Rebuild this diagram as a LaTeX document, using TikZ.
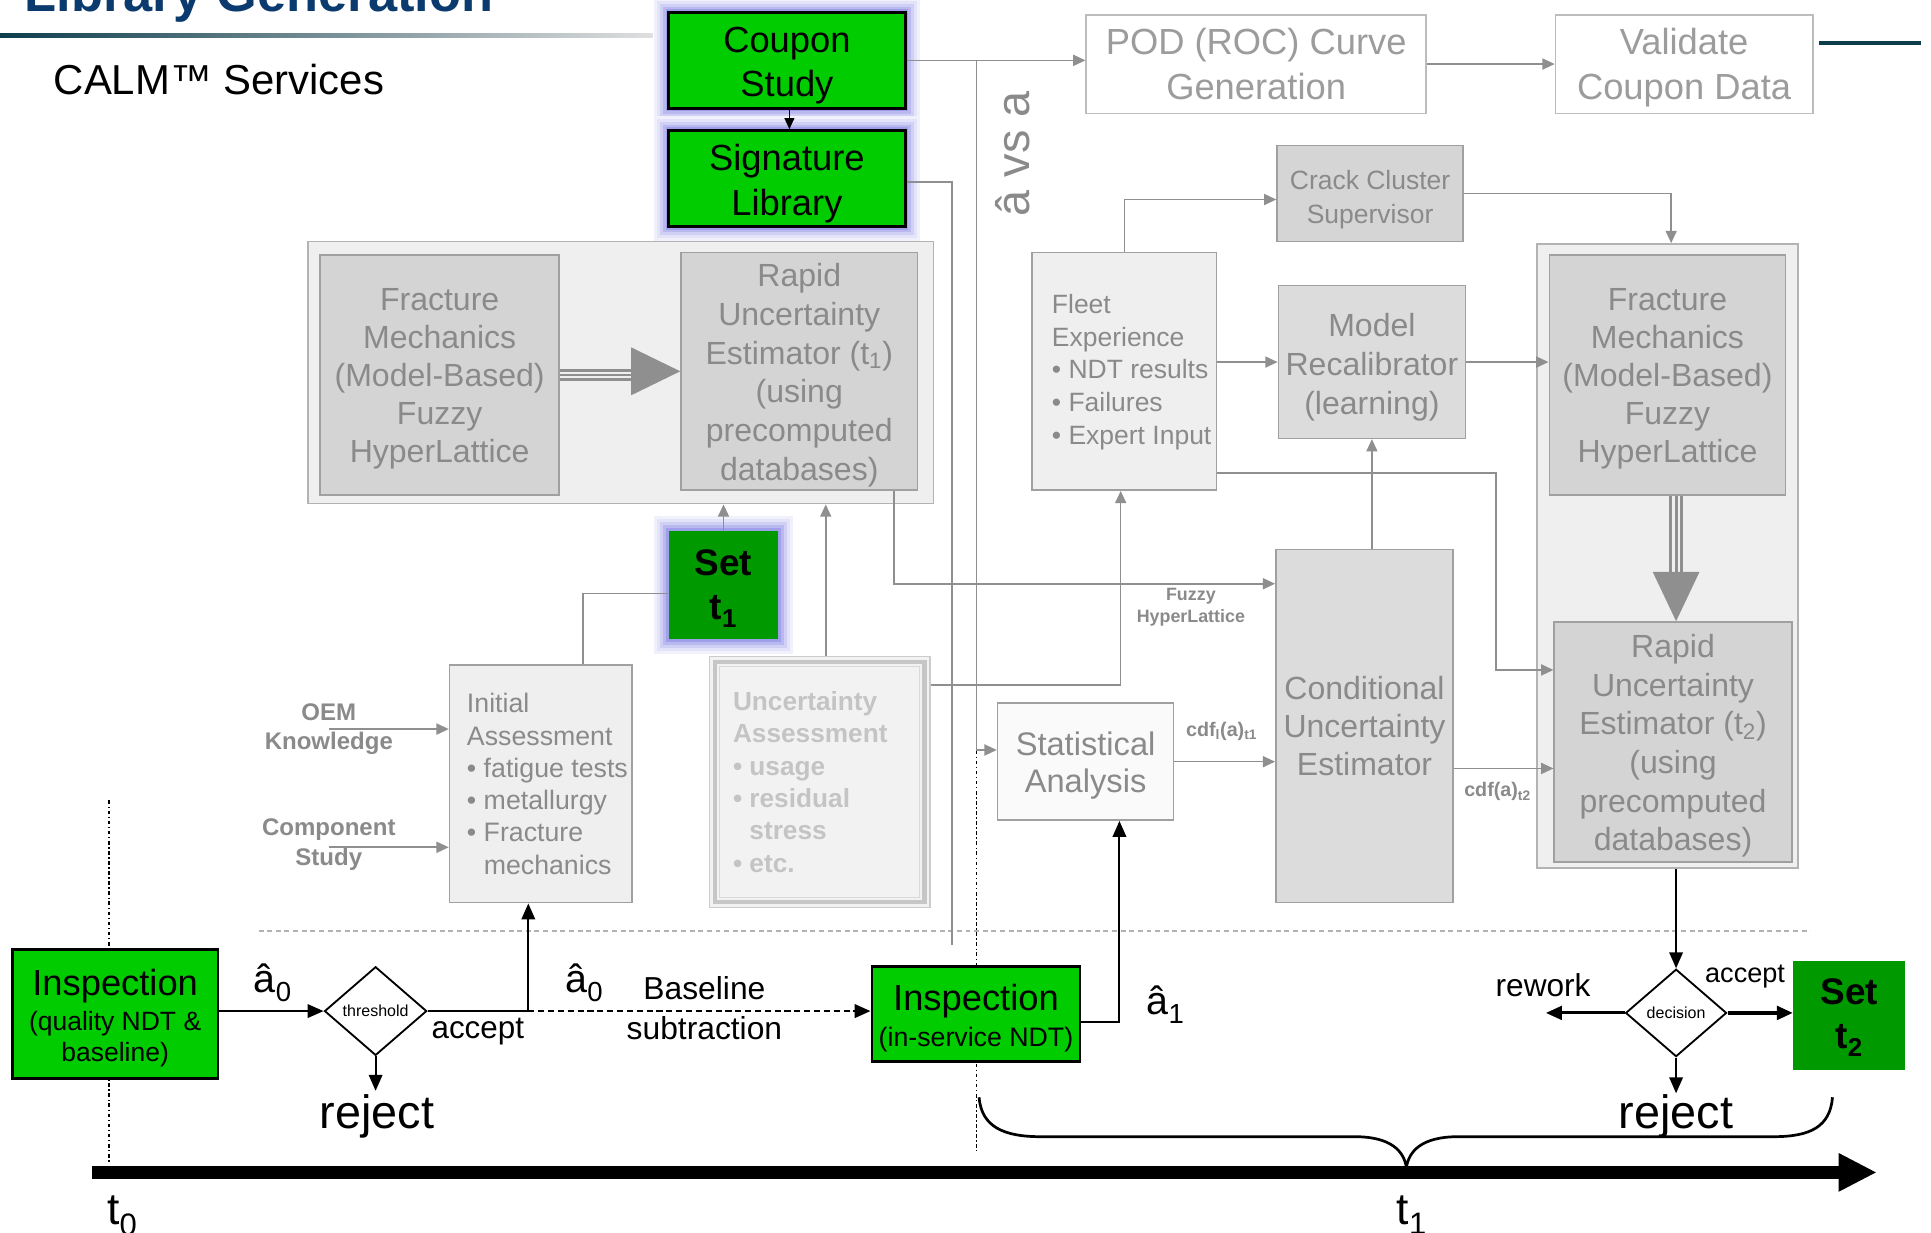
\documentclass[tikz,border=0pt]{standalone}
\usepackage{fontspec}
\setmainfont{Liberation Sans}
\usetikzlibrary{arrows.meta,shapes.geometric,calc}
\newcommand\fs[2]{\fontsize{#1pt}{#2pt}\selectfont}
\newcommand\strutto[1]{\rule{0pt}{#1pt}}
\definecolor{gtext}{HTML}{8A8A8A}
\definecolor{glinec}{HTML}{8F8F8F}
\definecolor{gborder}{HTML}{A0A0A0}
\definecolor{fmfill}{HTML}{D4D4D4}
\definecolor{midfill}{HTML}{DCDCDC}
\definecolor{contfill}{HTML}{EFEFEF}
\definecolor{brightgreen}{HTML}{00CC00}
\definecolor{darkgreen}{HTML}{009900}
\definecolor{glowc}{HTML}{8E8EE6}
\definecolor{navy}{HTML}{0B3A6E}
\definecolor{tealc}{HTML}{0D3D4D}
\definecolor{unctext}{HTML}{C4C4C4}
\begin{document}
\begin{tikzpicture}[x=1pt,y=-1pt,
  wh/.style 2 args={minimum width=#1pt, minimum height=#2pt},
  greybox/.style={draw=gborder, line width=1.2pt, inner sep=0pt, align=center, text=gtext},
  contbox/.style={draw=gborder!80, line width=1.2pt, fill=contfill, inner sep=0pt},
  greenbox/.style={draw=black, line width=2.2pt, fill=brightgreen, inner sep=0pt, align=center, text=black},
  setbox/.style={fill=darkgreen, inner sep=0pt, align=center, text=black, font=\bfseries\fs{30}{36}},
  glow/.style={preaction={draw=glowc!12, line width=24pt, rounded corners=12pt},
               preaction={draw=glowc!25, line width=19pt, rounded corners=9pt},
               preaction={draw=glowc!42, line width=14pt, rounded corners=6pt},
               preaction={draw=glowc!62, line width=9pt, rounded corners=3pt},
               preaction={draw=glowc!85, line width=5pt}},
  gl/.style={draw=glinec, line width=1.3pt},
  garrow/.style={gl, -{Triangle[length=10pt,width=9pt]}},
  bl/.style={draw=black, line width=1.6pt},
  barrow/.style={bl, -{Triangle[length=13pt,width=11pt]}},
  tri/.style={draw=glinec, line width=2.4pt},
  decisionshape/.style={shape=diamond, draw=black, line width=1.5pt, fill=white, inner sep=0pt, font=\fs{13}{15}},
  lbl/.style={inner sep=0pt, text=black}
]
\useasboundingbox (0,0) rectangle (1568,1001);
\fill[white] (0,0) rectangle (1568,1001);

% header
\node[anchor=base west, inner sep=0pt, text=navy, font=\bfseries\fs{42.5}{50}] (title) at (20,9.5) {Library Generation};
\shade[left color=tealc, right color=gray!25] (0,27) rectangle (530,30.5);
\fill[tealc] (1477,33) rectangle (1560,36.5);
\node[anchor=base west, inner sep=0pt, font=\fs{34}{40}] (calm) at (43.5,77) {CALM™ Services};

% separator and time markers
\draw[gray!60, line width=1pt, dash pattern=on 4pt off 3pt] (210,756) -- (1470,756);
\draw[black, line width=1.2pt, dash dot] (88.5,650) -- (88.5,945);
\draw[black, line width=1.2pt, dash dot] (793,552) -- (793,935);

% containers
\node[contbox, wh={508}{213}] (leftcont) at (504,302.5) {};
\node[contbox, wh={212}{507}] (rightcont) at (1354,451.5) {};

% grey boxes
\node[greybox, fill=fmfill, wh={194}{195}, font=\fs{26}{31}] (fm1) at (357,304.5) {\strutto{24}Fracture\\Mechanics\\(Model-Based)\\Fuzzy\\HyperLattice};
\node[greybox, fill=fmfill, wh={192}{193}, font=\fs{26}{31.4}] (rue1) at (649,301.5) {\strutto{25}Rapid\\Uncertainty\\Estimator (t\textsubscript{1})\\(using\\precomputed\\databases)};
\node[greybox, fill=fmfill, wh={192}{195}, font=\fs{26}{31}] (fm2) at (1354,304.5) {\strutto{24}Fracture\\Mechanics\\(Model-Based)\\Fuzzy\\HyperLattice};
\node[greybox, fill=fmfill, wh={193}{195}, font=\fs{26}{31.4}] (rue2) at (1358.5,602.5) {\strutto{25}Rapid\\Uncertainty\\Estimator (t\textsubscript{2})\\(using\\precomputed\\databases)};
\node[greybox, draw=gborder!70, fill=white, wh={276}{80}, font=\fs{29.5}{37}, text=gtext!85] (pod) at (1020,52) {POD (ROC) Curve\\Generation};
\node[greybox, draw=gborder!70, fill=white, wh={209}{80}, font=\fs{29.5}{37}, text=gtext!85] (validate) at (1367.5,52) {\strutto{27.5}Validate\\Coupon Data};
\node[greybox, fill=midfill!97!black, wh={151}{78}, font=\fs{21.5}{27}] (crack) at (1112.5,157) {\strutto{25.7}Crack Cluster\\Supervisor};
\node[greybox, fill=contfill, wh={150}{193}] (fleet) at (913,301.5) {};
\node[anchor=west, align=left, inner sep=0pt, text=gtext, font=\fs{21.5}{26.5}] (fleettxt) at (854,302) {Fleet\\Experience\\• NDT results\\• Failures\\• Expert Input};
\node[greybox, fill=midfill, wh={152}{124}, font=\fs{26}{31.5}] (model) at (1114,294) {\strutto{27}Model\\Recalibrator\\(learning)};
\node[greybox, fill=midfill, wh={144}{287}, font=\fs{26}{31}] (cond) at (1108,589.5) {Conditional\\Uncertainty\\Estimator};
\node[greybox, fill=gray!4, wh={143}{95}, font=\fs{26.5}{30}] (stat) at (881.5,618.5) {\strutto{25.3}Statistical\\Analysis};
\node[greybox, fill=contfill, wh={148}{193}] (init) at (439,636.5) {};
\node[anchor=west, align=left, inner sep=0pt, text=gtext, font=\fs{21.7}{26.2}] (inittxt) at (379,636.5) {Initial\\Assessment\\• fatigue tests\\• metallurgy\\• Fracture\\\phantom{• }mechanics};
\node[draw=gray!40, line width=1.2pt, fill=gray!10, inner sep=0pt, wh={179}{204}] (unc) at (665.5,635) {};
\draw[gray!45, line width=3.5pt] ([shift={(5,5)}]unc.north west) rectangle ([shift={(-5,-5)}]unc.south east);
\draw[gray!30, line width=1pt] ([shift={(9,9)}]unc.north west) rectangle ([shift={(-9,-9)}]unc.south east);
\node[anchor=west, align=left, inner sep=0pt, text=unctext, font=\bfseries\fs{21.3}{26.2}] (unctxt) at (595,635) {Uncertainty\\Assessment\\• usage\\• residual\\\phantom{• }stress\\• etc.};

% green boxes
\node[greenbox, glow, wh={192}{78}, font=\fs{29.5}{36}] (coupon) at (639,49) {\strutto{29.5}Coupon\\Study};
\node[greenbox, glow, wh={192}{78}, font=\fs{29.5}{36}] (siglib) at (639,145) {\strutto{29.5}Signature\\Library};
\node[setbox, glow, wh={89}{88}] (set1) at (587.5,475) {\strutto{26.6}Set\\t\textsubscript{1}};
\node[setbox, wh={91}{89}] (set2) at (1501.5,824.5) {\strutto{24.6}Set\\t\textsubscript{2}};
\node[greenbox, wh={167}{105}, font=\fs{21.5}{25}] (insp0) at (93.5,823.5) {{\fs{29.5}{34}\strutto{27.5}Inspection}\\[4pt](quality NDT \&\\baseline)};
\node[greenbox, wh={169}{77}, font=\fs{21.7}{25}] (insp1) at (792.5,823.5) {\strutto{28}{\fs{29.5}{34}Inspection}\\[4pt](in-service NDT)};

% decisions
\node[decisionshape, wh={83}{72}] (thr) at (305,821) {threshold};
\node[decisionshape, wh={82}{71}] (dec) at (1361,822.5) {decision};

% labels
\node[rotate=90, inner sep=0pt, text=gtext, font=\fs{38}{44}] (avsa) at (822,125) {â vs a};
\node[align=center, inner sep=0pt, text=gtext, font=\bfseries\fs{19.5}{24}] (oem) at (267,592) {OEM\\Knowledge};
\node[align=center, inner sep=0pt, text=gtext, font=\bfseries\fs{19.5}{24}] (comp) at (267,686) {Component\\Study};
\node[align=center, inner sep=0pt, text=gtext, font=\bfseries\fs{14.5}{18}] (fuzzy) at (967,493) {Fuzzy\\HyperLattice};
\node[inner sep=0pt, text=gtext, font=\bfseries\fs{16}{18}] (cdf1) at (992,594) {cdf\textsubscript{l}(a)\textsubscript{t1}};
\node[inner sep=0pt, text=gtext, font=\bfseries\fs{16}{18}] (cdf2) at (1216,643) {cdf(a)\textsubscript{t2}};
\node[lbl, anchor=base west, font=\fs{32}{38}] (ahat0a) at (206,806) {â\textsubscript{0}};
\node[lbl, anchor=base west, font=\fs{32}{38}] (ahat0b) at (459,806) {â\textsubscript{0}};
\node[lbl, anchor=base west, font=\fs{32}{38}] (ahat1) at (931,824) {â\textsubscript{1}};
\node[lbl, anchor=base, font=\fs{25.5}{30}] (acc1) at (388,843) {accept};
\node[lbl, anchor=base, font=\fs{25.8}{30}] (basel) at (572,812) {Baseline};
\node[lbl, anchor=base, font=\fs{25.8}{30}] (subtr) at (572,844) {subtraction};
\node[lbl, anchor=base, font=\fs{38}{44}] (rej1) at (306,916) {reject};
\node[lbl, anchor=base, font=\fs{38}{44}] (rej2) at (1361,916) {reject};
\node[lbl, anchor=base, font=\fs{25.7}{30}] (rework) at (1253,809) {rework};
\node[lbl, anchor=base, font=\fs{22}{26}] (acc2) at (1417,798) {accept};
\node[lbl, anchor=base west, font=\fs{36}{40}] (t0) at (87,994) {t\textsubscript{0}};
\node[lbl, anchor=base west, font=\fs{36}{40}] (t1) at (1134,994) {t\textsubscript{1}};

% triple arrows
\foreach \dy in {-4,0,4} \draw[tri] ([yshift=\dy pt]fm1.east) -- ++(62,0);
\fill[glinec] (rue1.west) -- ++(-40,19.5) -- ++(0,-39) -- cycle;
\foreach \dx in {-4.5,0,4.5} \draw[tri] ([xshift=\dx pt+7pt]fm2.south) -- ++(0,65);
\fill[glinec] ([xshift=2.5pt]rue2.north) -- ++(-19,-40) -- ++(38,0) -- cycle;

% grey connectors
\coordinate (avsatop) at (793,49);
\coordinate (sigend) at (773,767);
\draw[garrow] (coupon.east) -- (coupon.east -| pod.west);
\draw[garrow] (avsatop) |- ([yshift=9.5pt]stat.west);
\draw[garrow] (pod.east) -- (validate.west);
\draw[gl] ([yshift=-3pt]siglib.east) -| (sigend);
\draw[garrow] (fleet.north) |- ([yshift=-5pt]crack.west);
\draw[garrow] (crack.east) -| ([xshift=3pt]rightcont.north);
\draw[garrow] ([xshift=77pt]rue1.south) |- ([yshift=115.5pt]cond.west);
\draw[garrow] (set1.north) -- (set1.north |- leftcont.south);
\draw[garrow] ([xshift=5pt]unc.north) -- ([xshift=5pt]unc.north |- leftcont.south);
\draw[gl] ([xshift=34.5pt]init.north) |- ([yshift=-7pt]set1.west);
\draw[garrow] (oem.center) -- (oem.center -| init.west);
\draw[garrow] ([yshift=-2pt]comp.center) -- ([yshift=-2pt]comp.center -| init.west);
\draw[garrow] (model.west -| fleet.east) -- (model.west);
\draw[garrow] (model.east) -- (model.east -| fm2.west);
\draw[garrow] ([yshift=-82.5pt]fleet.east) -- ++(226,0) |- ([yshift=58.5pt]rue2.west);
\draw[garrow] (model.south |- cond.north) -- (model.south);
\draw[garrow] ([yshift=79pt]unc.east) -| ([xshift=-3pt]fleet.south);
\draw[garrow] (stat.east) -- (stat.east -| cond.west);
\draw[garrow] ([yshift=-34.5pt]cond.east) -- ([yshift=-34.5pt]cond.east -| rue2.west);

% black connectors
\coordinate (acc) at (429,821);
\draw[bl, line width=1.2pt, -{Triangle[length=9pt,width=8pt]}] ([xshift=2pt]coupon.south) -- ([xshift=2pt]siglib.north);
\draw[barrow] (thr.west -| insp0.east) -- (thr.west);
\draw[barrow] (thr.south) -- ++(0,28);
\draw[bl] (thr.east) -- (acc);
\draw[barrow] (acc) -- (acc |- init.south);
\draw[barrow, line width=2pt, dash pattern=on 5pt off 3pt] (acc) -- (acc -| insp1.west);
\draw[barrow] ([yshift=-6.5pt]insp1.east) -| ([xshift=27.5pt]stat.south);
\draw[barrow] (dec.north |- rightcont.south) -- (dec.north);
\draw[barrow, line width=2.5pt] (dec.west) -- ++(-64,0);
\draw[barrow, line width=3pt] (dec.east) -- (dec.east -| set2.west);
\draw[barrow] (dec.south) -- ++(0,29);

% brace and timeline
\draw[black, line width=2.2pt] (795,891) .. controls (797,915) and (815,923) .. (845,923) -- (1100,923) .. controls (1130,923) and (1140,935) .. (1142,948) .. controls (1144,935) and (1154,923) .. (1184,923) -- (1440,923) .. controls (1470,923) and (1486,915) .. (1488,891);
\coordinate (tlstart) at (75,952);
\coordinate (tlend) at (1524,952);
\draw[black, line width=10pt, -{Triangle[length=31pt,width=29pt]}] (tlstart) -- (tlend);
\end{tikzpicture}
\end{document}
